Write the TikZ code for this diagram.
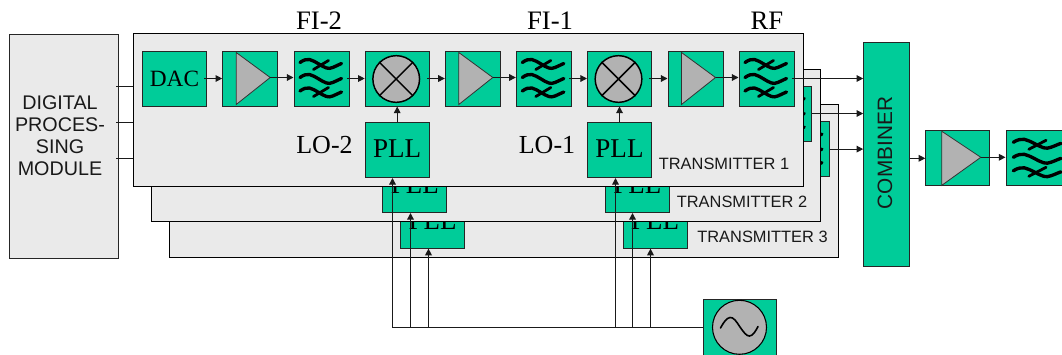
\documentclass[tikz,border=0pt]{standalone}
\usepackage{fontspec}
\setmainfont{Liberation Serif}
\newfontfamily\sansf{Liberation Sans}
\usetikzlibrary{arrows.meta,calc}
\definecolor{bgreen}{HTML}{00CC99}
\definecolor{bgray}{HTML}{EAEAEA}
\definecolor{tgray}{HTML}{B2B2B2}
\definecolor{wirec}{HTML}{1A1A1A}
\tikzset{
  x=0.75pt,y=-0.75pt,
  panel/.style={draw=black,fill=bgray,line width=0.75pt,minimum width=0,inner sep=0pt},
  blockbase/.style={draw=black!85,fill=bgreen,line width=0.75pt,inner sep=0pt},
  narrowblock/.style={blockbase,minimum width=41.25pt,minimum height=41.25pt},
  wideblock/.style={blockbase,minimum width=48pt,minimum height=41.25pt},
  combblock/.style={blockbase,minimum width=34.5pt,minimum height=167.7pt},
  oscblock/.style={blockbase,minimum width=55pt,minimum height=44pt},
  serifbig/.style={font=\fontsize{20.3}{22}\selectfont,inner sep=0pt},
  seriflo/.style={font=\fontsize{19.5}{22}\selectfont,inner sep=0pt},
  serifdac/.style={font=\fontsize{17.5}{20}\selectfont,inner sep=0pt},
  seriftop/.style={font=\fontsize{20}{22}\selectfont,inner sep=0pt},
  sanslabel/.style={font=\sansf\fontsize{12.3}{14}\selectfont,inner sep=0pt,text=black!90},
  sansmod/.style={font=\sansf\fontsize{14.8}{16.5}\selectfont,align=center,inner sep=0pt,text=black!90},
  sanscomb/.style={font=\sansf\fontsize{15.6}{17}\selectfont,inner sep=0pt,text=black!90},
  wire/.style={draw=wirec,line width=0.85pt},
  arrowwire/.style={wire,-{Triangle[length=5pt,width=5pt]}},
  busv/.style={draw=wirec,line width=0.95pt,-{Triangle[length=5pt,width=5pt]}},
  ampfill/.style={draw=black!80,fill=tgray,line width=0.6pt},
  roundc/.style={circle,draw=black,fill=tgray,line width=1.1pt,inner sep=0pt},
  wave/.style={draw=black,line width=2.5pt,line cap=round,line join=round},
}
% name, cx, cy, block style, left offset of triangle, apex offset, half height
\newcommand{\ampblk}[7]{%
  \node[#4] (#1) at (#2,#3) {};
  \fill[ampfill] ($(#1.center)+(#5,-#7)$) -- ($(#1.center)+(#6,-1)$) -- ($(#1.center)+(#5,#7)$) -- cycle;
  \coordinate (#1apex) at ($(#1.center)+(#6,-1)$);
}
\newcommand{\filtblk}[5]{%
  \node[#4] (#1) at (#2,#3) {};
  \begin{scope}[shift={(#1.center)},xscale=#5]
    \foreach \yy in {-15,0,13.5}{
      \draw[wave,yshift=\yy*-0.75pt] (-21.5,-1) .. controls (-18,-3.5) and (-15,-4.5) .. (-12,-4) .. controls (-6,-2.5) and (0,3) .. (5,4.5) .. controls (9,6) and (13,3) .. (20,0);
    }
    \draw[wave,line width=2.1pt] (-8,-9) -- (7,-18);
    \draw[wave,line width=2.1pt] (-8,18) -- (7,9);
  \end{scope}
}
\newcommand{\mixblk}[3]{%
  \node[wideblock] (#1) at (#2,#3) {};
  \node[roundc,minimum size=35pt] (#1c) at ($(#1.center)+(-1,0.5)$) {};
  \draw[line width=1.1pt,draw=black] (#1c.45) -- (#1c.225) (#1c.135) -- (#1c.315);
}
\begin{document}
\begin{tikzpicture}
\clip (0,0) rectangle (1062,354);
\useasboundingbox (0,0) rectangle (1062,354);

% Digital module
\node[panel,minimum width=81.75pt,minimum height=168pt,draw=black!85] (dpm) at (64,146.5) {};
\node[sansmod] (dpmt) at (60,136) {DIGITAL\\PROCES-\\SING\\MODULE};

% Transmitter 3
\node[panel,minimum width=501.75pt,minimum height=114.75pt] (tx3) at (504,181) {};
\filtblk{f3c}{801.9}{149.1}{narrowblock}{1}
\node[wideblock] (pll3a) at (432.6,220.6) {};
\node[serifbig] at (432.6,220.6) {PLL};
\node[wideblock] (pll3b) at (655,220.6) {};
\node[serifbig] at (655,220.6) {PLL};
\node[sanslabel] (t3l) at (762.5,237.3) {TRANSMITTER 3};

% Transmitter 2
\node[panel,minimum width=501.75pt,minimum height=114pt] (tx2) at (486,145.5) {};
\filtblk{f2c}{784.2}{113.5}{narrowblock}{1}
\node[wideblock] (pll2a) at (414.9,185) {};
\node[serifbig] at (414.9,185) {PLL};
\node[wideblock] (pll2b) at (637.4,185) {};
\node[serifbig] at (637.4,185) {PLL};
\node[sanslabel] (t2l) at (742,202) {TRANSMITTER 2};

% Transmitter 1
\node[panel,minimum width=502.5pt,minimum height=114.75pt] (tx1) at (468.5,110) {};
\node[wideblock] (dac) at (174.5,78.5) {};
\node[serifdac] at (174.5,79) {DAC};
\ampblk{a1}{250.2}{78.5}{narrowblock}{-14}{20}{26}
\filtblk{f1}{321.5}{78.5}{narrowblock}{1}
\mixblk{m1}{397.2}{78.5}
\ampblk{a2}{472.8}{78.5}{narrowblock}{-14}{20}{26}
\filtblk{f2}{543.8}{78.5}{narrowblock}{1}
\mixblk{m2}{619.5}{78.5}
\ampblk{a3}{695.5}{78.5}{narrowblock}{-14}{20}{26}
\filtblk{f3}{766.5}{78.5}{narrowblock}{1}
\node[wideblock] (pll1) at (397.2,150) {};
\node[serifbig] at (397.2,149) {PLL};
\node[wideblock] (pll2) at (619.5,150) {};
\node[serifbig] at (619.5,149) {PLL};
\node[sanslabel] (t1l) at (724,164) {TRANSMITTER 1};
\node[seriflo] (lo2) at (324.5,145) {LO-2};
\node[seriflo] (lo1) at (547,145) {LO-1};

% Titles
\node[seriftop] (fi2) at (319,21) {FI-2};
\node[seriftop] (fi1) at (550,21) {FI-1};
\node[seriftop] (rf) at (767,21) {RF};

% Output part
\node[combblock] (comb) at (886.7,154.5) {};
\node[sanscomb,rotate=90] (combt) at (885,153) {COMBINER};
\ampblk{a4}{957.8}{158.3}{wideblock}{-16}{23}{27}
\filtblk{f4}{1038}{158.3}{wideblock}{1.15}

% Oscillator
\node[oscblock] (osc) at (740,329) {};
\node[roundc,minimum size=40.5pt,line width=0.8pt] (oscc) at (739.5,327.3) {};
\draw[line width=1.2pt,draw=black,line cap=round] plot[smooth,tension=0.7] coordinates {(720.5,328) (725,321) (730,317.5) (735,320) (740,327) (745,333.5) (749.5,336) (754,333) (758,326.5)};

% Input lines
\coordinate (i1) at (116,86.5);
\coordinate (i2) at (116,122.5);
\coordinate (i3) at (116,158.5);
\draw[wire] (i1) -- (i1 -| tx1.west);
\draw[wire] (i2) -- (i2 -| tx1.west);
\draw[wire] (i3) -- (i3 -| tx1.west);

% Chain arrows
\draw[arrowwire,shorten <=-2pt] (dac.east) -- (a1.west);
\draw[arrowwire] (a1apex) -- (a1apex -| f1.west);
\draw[arrowwire,shorten <=-2pt] (f1.east) -- (m1.west);
\draw[arrowwire,shorten <=-2pt] (m1.east) -- (a2.west);
\draw[arrowwire] (a2apex) -- (a2apex -| f2.west);
\draw[arrowwire,shorten <=-2pt] (f2.east) -- (m2.west);
\draw[arrowwire,shorten <=-2pt] (m2.east) -- (a3.west);
\draw[arrowwire] (a3apex) -- (a3apex -| f3.west);
\draw[arrowwire] (pll1.north) -- (m1.south -| pll1.north);
\draw[arrowwire] (pll2.north) -- (m2.south -| pll2.north);

% Outputs
\draw[arrowwire,shorten <=-2pt] (f3.east) -- (f3.east -| comb.west);
\draw[arrowwire] (f2c.east) -- (f2c.east -| comb.west);
\draw[arrowwire] (f3c.east) -- (f3c.east -| comb.west);
\draw[arrowwire] (comb.east |- a4.west) -- (a4.west);
\draw[arrowwire] (a4apex) -- (a4apex -| f4.west);

% LO distribution
\coordinate (j1) at (392.5,327.5);
\coordinate (j2) at (410.5,327.5);
\coordinate (j3) at (428.5,327.5);
\coordinate (j4) at (615.5,327.5);
\coordinate (j5) at (632.5,327.5);
\coordinate (j6) at (650.5,327.5);
\draw[wire,line width=0.95pt] (osc.west |- j1) -- (j1);
\draw[busv] (j1) -- (j1 |- pll1.south);
\draw[busv] (j2) -- (j2 |- pll2a.south);
\draw[busv] (j3) -- (j3 |- pll3a.south);
\draw[busv] (j4) -- (j4 |- pll2.south);
\draw[busv] (j5) -- (j5 |- pll2b.south);
\draw[busv] (j6) -- (j6 |- pll3b.south);
\end{tikzpicture}
\end{document}
